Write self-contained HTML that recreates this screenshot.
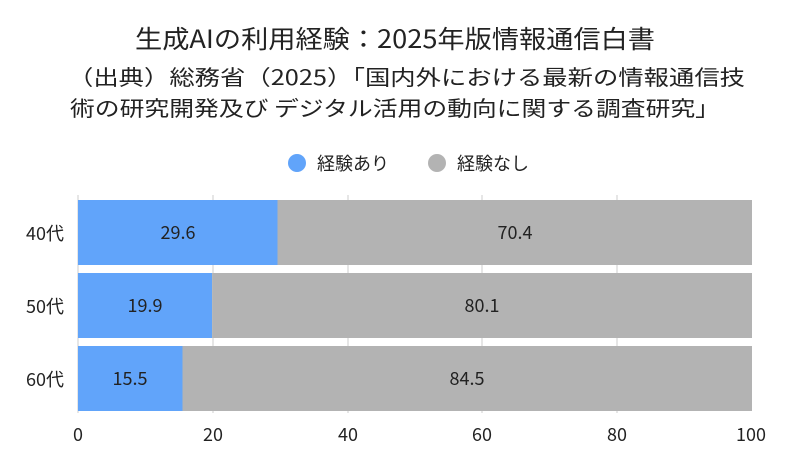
<!DOCTYPE html>
<html><head><meta charset="utf-8"><style>
body{margin:0;background:#fff}
svg{display:block;font-family:"Noto Sans CJK JP","Liberation Sans",sans-serif}
</style></head><body>
<svg width="791" height="461" viewBox="0 0 791 461" xmlns="http://www.w3.org/2000/svg">
<rect width="791" height="461" fill="#fff"/>
<text x="135" y="48" font-size="25" textLength="520" lengthAdjust="spacingAndGlyphs" fill="#222">生成AIの利用経験：2025年版情報通信白書</text>
<text x="68" y="85" font-size="21" textLength="677" lengthAdjust="spacingAndGlyphs" fill="#222">（出典）総務省（2025）「国内外における最新の情報通信技</text>
<text x="70" y="116" font-size="21" textLength="650" lengthAdjust="spacingAndGlyphs" fill="#222">術の研究開発及び デジタル活用の動向に関する調査研究」</text>
<circle cx="297" cy="163" r="9" fill="#61a4fa"/>
<text x="317" y="170" font-size="18" fill="#222">経験あり</text>
<circle cx="437" cy="163" r="9" fill="#b3b3b3"/>
<text x="457" y="170" font-size="18" fill="#222">経験なし</text>
<g stroke="#ddd" stroke-width="1.5">
<line x1="213" y1="195" x2="213" y2="413"/>
<line x1="348" y1="195" x2="348" y2="413"/>
<line x1="482" y1="195" x2="482" y2="413"/>
<line x1="617" y1="195" x2="617" y2="413"/>
<line x1="78" y1="195" x2="78" y2="413"/>
</g>
<rect x="78" y="200" width="199.5" height="65" fill="#61a4fa"/>
<rect x="277.5" y="200" width="474.5" height="65" fill="#b3b3b3"/>
<rect x="78" y="273" width="134.1" height="65" fill="#61a4fa"/>
<rect x="212.1" y="273" width="539.9" height="65" fill="#b3b3b3"/>
<rect x="78" y="346" width="104.5" height="65" fill="#61a4fa"/>
<rect x="182.5" y="346" width="569.5" height="65" fill="#b3b3b3"/>
<g font-size="18" fill="#222" text-anchor="middle">
<text x="178" y="239">29.6</text><text x="515" y="239">70.4</text>
<text x="145" y="312">19.9</text><text x="482" y="312">80.1</text>
<text x="130" y="385">15.5</text><text x="467" y="385">84.5</text>
<text x="78" y="441">0</text><text x="213" y="441">20</text><text x="348" y="441">40</text>
<text x="482" y="441">60</text><text x="617" y="441">80</text><text x="751" y="441">100</text>
</g>
<g font-size="18" fill="#222" text-anchor="end">
<text x="64" y="240">40代</text><text x="64" y="313">50代</text><text x="64" y="386">60代</text>
</g>
</svg>
</body></html>
